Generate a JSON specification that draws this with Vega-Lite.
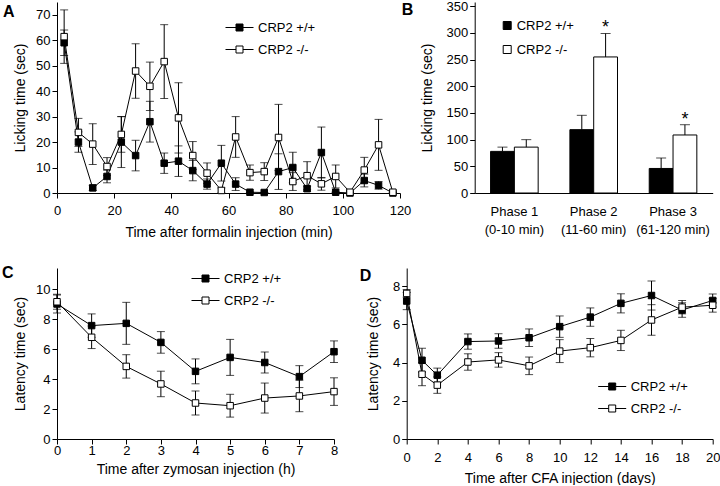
{
 "$schema": "https://vega.github.io/schema/vega-lite/v6.json",
 "padding": {"left": 2, "top": 0, "right": 0, "bottom": 0},
 "config": {
  "font": "Liberation Sans",
  "view": {"stroke": null},
  "axis": {"grid": false, "domainColor": "black", "tickColor": "black", "labelColor": "black", "titleColor": "black", "labelFontSize": 13, "titleFontSize": 14, "titleFontWeight": "normal", "tickSize": 5, "labelFont": "Liberation Sans", "titleFont": "Liberation Sans", "labelFlush": false, "labelOverlap": false},
  "legend": {"labelFontSize": 13, "labelColor": "black", "labelFont": "Liberation Sans", "padding": 0},
  "title": {"anchor": "start", "frame": "group", "fontSize": 16, "fontWeight": "bold", "color": "black", "offset": 0, "baseline": "alphabetic", "font": "Liberation Sans"}
 },
 "datasets": {
  "A": [
   {"t": 2.5, "g": "CRP2 +/+", "m": 59, "e": 5},
   {"t": 7.5, "g": "CRP2 +/+", "m": 20, "e": 4},
   {"t": 12.5, "g": "CRP2 +/+", "m": 2, "e": 1},
   {"t": 17.5, "g": "CRP2 +/+", "m": 6.5, "e": 2.5},
   {"t": 22.5, "g": "CRP2 +/+", "m": 20, "e": 10},
   {"t": 27.5, "g": "CRP2 +/+", "m": 14.7, "e": 6},
   {"t": 32.5, "g": "CRP2 +/+", "m": 28, "e": 8},
   {"t": 37.5, "g": "CRP2 +/+", "m": 11.7, "e": 4},
   {"t": 42.5, "g": "CRP2 +/+", "m": 12.5, "e": 6},
   {"t": 47.5, "g": "CRP2 +/+", "m": 8.8, "e": 4},
   {"t": 52.5, "g": "CRP2 +/+", "m": 3.5, "e": 2},
   {"t": 57.5, "g": "CRP2 +/+", "m": 11.7, "e": 7},
   {"t": 62.5, "g": "CRP2 +/+", "m": 3.5, "e": 2.5},
   {"t": 67.5, "g": "CRP2 +/+", "m": 0.3, "e": 0},
   {"t": 72.5, "g": "CRP2 +/+", "m": 0.2, "e": 0},
   {"t": 77.5, "g": "CRP2 +/+", "m": 8.4, "e": 7},
   {"t": 82.5, "g": "CRP2 +/+", "m": 10, "e": 6},
   {"t": 87.5, "g": "CRP2 +/+", "m": 1.7, "e": 1},
   {"t": 92.5, "g": "CRP2 +/+", "m": 15.9, "e": 10},
   {"t": 97.5, "g": "CRP2 +/+", "m": 0.3, "e": 0},
   {"t": 102.5, "g": "CRP2 +/+", "m": 0, "e": 0},
   {"t": 107.5, "g": "CRP2 +/+", "m": 4.9, "e": 2.5},
   {"t": 112.5, "g": "CRP2 +/+", "m": 3, "e": 1.5},
   {"t": 117.5, "g": "CRP2 +/+", "m": 0, "e": 0},
   {"t": 2.5, "g": "CRP2 -/-", "m": 61.4, "e": 10.5},
   {"t": 7.5, "g": "CRP2 -/-", "m": 23.8, "e": 5.5},
   {"t": 12.5, "g": "CRP2 -/-", "m": 19.2, "e": 8},
   {"t": 17.5, "g": "CRP2 -/-", "m": 10.4, "e": 3.5},
   {"t": 22.5, "g": "CRP2 -/-", "m": 23, "e": 7},
   {"t": 27.5, "g": "CRP2 -/-", "m": 47.9, "e": 10.7},
   {"t": 32.5, "g": "CRP2 -/-", "m": 41.9, "e": 9.5},
   {"t": 37.5, "g": "CRP2 -/-", "m": 51.6, "e": 14.5},
   {"t": 42.5, "g": "CRP2 -/-", "m": 29.5, "e": 13.8},
   {"t": 47.5, "g": "CRP2 -/-", "m": 14.7, "e": 5.5},
   {"t": 52.5, "g": "CRP2 -/-", "m": 7.8, "e": 4},
   {"t": 57.5, "g": "CRP2 -/-", "m": 1, "e": 1},
   {"t": 62.5, "g": "CRP2 -/-", "m": 22, "e": 8},
   {"t": 67.5, "g": "CRP2 -/-", "m": 8, "e": 3},
   {"t": 72.5, "g": "CRP2 -/-", "m": 8.4, "e": 3.5},
   {"t": 77.5, "g": "CRP2 -/-", "m": 21.8, "e": 13},
   {"t": 82.5, "g": "CRP2 -/-", "m": 4.5, "e": 3.5},
   {"t": 87.5, "g": "CRP2 -/-", "m": 6.8, "e": 5.5},
   {"t": 92.5, "g": "CRP2 -/-", "m": 3.6, "e": 2.5},
   {"t": 97.5, "g": "CRP2 -/-", "m": 6.5, "e": 4.5},
   {"t": 102.5, "g": "CRP2 -/-", "m": 0.3, "e": 0},
   {"t": 107.5, "g": "CRP2 -/-", "m": 9, "e": 5},
   {"t": 112.5, "g": "CRP2 -/-", "m": 18.9, "e": 10},
   {"t": 117.5, "g": "CRP2 -/-", "m": 0.3, "e": 0}
  ],
  "B": [
   {"phase": "Phase 1", "g": "CRP2 +/+", "v": 78, "hi": 86, "star": ""},
   {"phase": "Phase 1", "g": "CRP2 -/-", "v": 86, "hi": 100, "star": ""},
   {"phase": "Phase 2", "g": "CRP2 +/+", "v": 118.75, "hi": 145.6, "star": ""},
   {"phase": "Phase 2", "g": "CRP2 -/-", "v": 255, "hi": 299, "star": "*"},
   {"phase": "Phase 3", "g": "CRP2 +/+", "v": 46, "hi": 65.6, "star": ""},
   {"phase": "Phase 3", "g": "CRP2 -/-", "v": 108.75, "hi": 128, "star": "*"}
  ],
  "C": [
   {"t": 0, "g": "CRP2 +/+", "m": 9.0, "e": 0.6},
   {"t": 1, "g": "CRP2 +/+", "m": 7.56, "e": 0.78},
   {"t": 2, "g": "CRP2 +/+", "m": 7.71, "e": 1.4},
   {"t": 3, "g": "CRP2 +/+", "m": 6.44, "e": 0.72},
   {"t": 4, "g": "CRP2 +/+", "m": 4.51, "e": 0.83},
   {"t": 5, "g": "CRP2 +/+", "m": 5.44, "e": 1.2},
   {"t": 6, "g": "CRP2 +/+", "m": 5.1, "e": 0.7},
   {"t": 7, "g": "CRP2 +/+", "m": 4.16, "e": 0.73},
   {"t": 8, "g": "CRP2 +/+", "m": 5.82, "e": 0.72},
   {"t": 0, "g": "CRP2 -/-", "m": 9.15, "e": 0.5},
   {"t": 1, "g": "CRP2 -/-", "m": 6.78, "e": 0.75},
   {"t": 2, "g": "CRP2 -/-", "m": 4.84, "e": 0.78},
   {"t": 3, "g": "CRP2 -/-", "m": 3.67, "e": 0.85},
   {"t": 4, "g": "CRP2 -/-", "m": 2.4, "e": 0.8},
   {"t": 5, "g": "CRP2 -/-", "m": 2.22, "e": 0.76},
   {"t": 6, "g": "CRP2 -/-", "m": 2.73, "e": 1.0},
   {"t": 7, "g": "CRP2 -/-", "m": 2.87, "e": 1.05},
   {"t": 8, "g": "CRP2 -/-", "m": 3.16, "e": 0.92}
  ],
  "D": [
   {"t": 0, "g": "CRP2 +/+", "m": 7.22, "e": 0.45},
   {"t": 1, "g": "CRP2 +/+", "m": 4.12, "e": 0.63},
   {"t": 2, "g": "CRP2 +/+", "m": 3.34, "e": 0.37},
   {"t": 4, "g": "CRP2 +/+", "m": 5.1, "e": 0.4},
   {"t": 6, "g": "CRP2 +/+", "m": 5.13, "e": 0.38},
   {"t": 8, "g": "CRP2 +/+", "m": 5.3, "e": 0.46},
   {"t": 10, "g": "CRP2 +/+", "m": 5.88, "e": 0.56},
   {"t": 12, "g": "CRP2 +/+", "m": 6.38, "e": 0.48},
   {"t": 14, "g": "CRP2 +/+", "m": 7.1, "e": 0.5},
   {"t": 16, "g": "CRP2 +/+", "m": 7.51, "e": 0.76},
   {"t": 18, "g": "CRP2 +/+", "m": 6.75, "e": 0.38},
   {"t": 20, "g": "CRP2 +/+", "m": 7.25, "e": 0.34},
   {"t": 0, "g": "CRP2 -/-", "m": 7.62, "e": 0.2},
   {"t": 1, "g": "CRP2 -/-", "m": 3.39, "e": 0.6},
   {"t": 2, "g": "CRP2 -/-", "m": 2.82, "e": 0.43},
   {"t": 4, "g": "CRP2 -/-", "m": 4.03, "e": 0.43},
   {"t": 6, "g": "CRP2 -/-", "m": 4.14, "e": 0.38},
   {"t": 8, "g": "CRP2 -/-", "m": 3.83, "e": 0.46},
   {"t": 10, "g": "CRP2 -/-", "m": 4.6, "e": 0.6},
   {"t": 12, "g": "CRP2 -/-", "m": 4.78, "e": 0.48},
   {"t": 14, "g": "CRP2 -/-", "m": 5.16, "e": 0.53},
   {"t": 16, "g": "CRP2 -/-", "m": 6.23, "e": 0.8},
   {"t": 18, "g": "CRP2 -/-", "m": 6.9, "e": 0.35},
   {"t": 20, "g": "CRP2 -/-", "m": 7.0, "e": 0.36}
  ]
 },
 "spacing": 25,
 "resolve": {"scale": {"fill": "independent"}, "legend": {"fill": "independent"}},
 "vconcat": [
  {
   "bounds": "flush",
   "spacing": 74.7,
   "resolve": {"scale": {"fill": "independent"}, "legend": {"fill": "independent"}},
   "hconcat": [
    {
     "width": 343, "height": 191,
     "title": {"text": "A", "dx": -54, "dy": 22},
     "data": {"name": "A"},
     "encoding": {
      "x": {"field": "t", "type": "quantitative", "scale": {"domain": [0, 120], "nice": false}, "axis": {"values": [0, 20, 40, 60, 80, 100, 120], "title": "Time after formalin injection (min)", "labelPadding": 6, "titlePadding": 8}},
      "y": {"field": "m", "type": "quantitative", "scale": {"domain": [0, 75], "nice": false}, "axis": {"values": [0, 10, 20, 30, 40, 50, 60, 70], "title": "Licking time (sec)", "titlePadding": 8}}
     },
     "layer": [
      {"mark": {"type": "errorbar", "color": "black", "ticks": {"size": 8}}, "encoding": {"yError": {"field": "e"}, "detail": {"field": "g"}}},
      {"mark": {"type": "line", "color": "black", "strokeWidth": 1}, "encoding": {"detail": {"field": "g"}}},
      {"mark": {"type": "point", "shape": "square", "filled": true, "size": 42, "stroke": "black", "strokeWidth": 1, "opacity": 1},
       "encoding": {"fill": {"field": "g", "type": "nominal", "scale": {"domain": ["CRP2 +/+", "CRP2 -/-"], "range": ["black", "white"]},
        "legend": {"title": null, "orient": "none", "legendX": 168, "legendY": 11, "symbolType": "M-1,0H-0.25M0.25,0H1M-0.25,-0.25H0.25V0.25H-0.25Z", "symbolSize": 784, "symbolStrokeColor": "black", "symbolStrokeWidth": 1, "rowPadding": -6, "labelOffset": 4}}}}
     ]
    },
    {
     "width": 238, "height": 191,
     "title": {"text": "B", "dx": -73, "dy": 22},
     "data": {"name": "B"},
     "encoding": {
      "x": {"field": "phase", "type": "nominal", "scale": {"paddingInner": 0.4, "paddingOuter": 0.2}, "axis": {"title": null, "labelAngle": 0, "ticks": false, "labelPadding": 12, "labelLineHeight": 18, "labelExpr": "datum.label == 'Phase 1' ? ['Phase 1', '(0-10 min)'] : datum.label == 'Phase 2' ? ['Phase 2', '(11-60 min)'] : ['Phase 3', '(61-120 min)']"}},
      "xOffset": {"field": "g", "type": "nominal", "scale": {"domain": ["CRP2 +/+", "CRP2 -/-"]}}
     },
     "layer": [
      {"mark": {"type": "bar", "stroke": "black", "strokeWidth": 1},
       "encoding": {
        "y": {"field": "v", "type": "quantitative", "title": "Licking time (sec)", "scale": {"domain": [0, 358], "nice": false}, "axis": {"values": [0, 50, 100, 150, 200, 250, 300, 350], "titlePadding": 12}},
        "fill": {"field": "g", "type": "nominal", "scale": {"domain": ["CRP2 +/+", "CRP2 -/-"], "range": ["black", "white"]},
         "legend": {"title": null, "orient": "none", "legendX": 26, "legendY": 17, "symbolType": "square", "symbolSize": 64, "symbolStrokeColor": "black", "symbolStrokeWidth": 1, "rowPadding": 10, "labelOffset": 3}}
       }},
      {"mark": {"type": "rule", "color": "black"}, "encoding": {"y": {"field": "v", "type": "quantitative", "title": "Licking time (sec)", "axis": {"values": [0, 50, 100, 150, 200, 250, 300, 350], "titlePadding": 12}}, "y2": {"field": "hi"}}},
      {"mark": {"type": "tick", "color": "black", "size": 10, "thickness": 1}, "encoding": {"y": {"field": "hi", "type": "quantitative", "title": "Licking time (sec)", "axis": {"values": [0, 50, 100, 150, 200, 250, 300, 350], "titlePadding": 12}}}},
      {"mark": {"type": "text", "fontSize": 18, "baseline": "alphabetic", "color": "black"}, "encoding": {"y": {"field": "hi", "type": "quantitative", "title": "Licking time (sec)", "axis": {"values": [0, 50, 100, 150, 200, 250, 300, 350], "titlePadding": 12}}, "text": {"field": "star"}}}
     ]
    }
   ]
  },
  {
   "bounds": "flush",
   "spacing": 72.7,
   "resolve": {"scale": {"fill": "independent"}, "legend": {"fill": "independent"}},
   "hconcat": [
    {
     "width": 277, "height": 171,
     "title": {"text": "C", "dx": -55, "dy": 21},
     "data": {"name": "C"},
     "encoding": {
      "x": {"field": "t", "type": "quantitative", "scale": {"domain": [0, 8], "nice": false}, "axis": {"values": [0, 1, 2, 3, 4, 5, 6, 7, 8], "title": "Time after zymosan injection (h)", "labelPadding": 0, "titlePadding": 5}},
      "y": {"field": "m", "type": "quantitative", "scale": {"domain": [0, 11.4], "nice": false}, "axis": {"values": [0, 2, 4, 6, 8, 10], "title": "Latency time (sec)", "titlePadding": 8}}
     },
     "layer": [
      {"mark": {"type": "errorbar", "color": "black", "ticks": {"size": 8}}, "encoding": {"yError": {"field": "e"}, "detail": {"field": "g"}}},
      {"mark": {"type": "line", "color": "black", "strokeWidth": 1}, "encoding": {"detail": {"field": "g"}}},
      {"mark": {"type": "point", "shape": "square", "filled": true, "size": 42, "stroke": "black", "strokeWidth": 1, "opacity": 1},
       "encoding": {"fill": {"field": "g", "type": "nominal", "scale": {"domain": ["CRP2 +/+", "CRP2 -/-"], "range": ["black", "white"]},
        "legend": {"title": null, "orient": "none", "legendX": 134, "legendY": -4, "symbolType": "M-1,0H-0.25M0.25,0H1M-0.25,-0.25H0.25V0.25H-0.25Z", "symbolSize": 784, "symbolStrokeColor": "black", "symbolStrokeWidth": 1, "rowPadding": -6, "labelOffset": 4}}}}
     ]
    },
    {
     "width": 306, "height": 171,
     "title": {"text": "D", "dx": -47, "dy": 20},
     "data": {"name": "D"},
     "encoding": {
      "x": {"field": "t", "type": "quantitative", "scale": {"domain": [0, 20], "nice": false}, "axis": {"values": [0, 2, 4, 6, 8, 10, 12, 14, 16, 18, 20], "title": "Time after CFA injection (days)", "labelPadding": 7, "titlePadding": 7}},
      "y": {"field": "m", "type": "quantitative", "scale": {"domain": [0, 8.95], "nice": false}, "axis": {"values": [0, 2, 4, 6, 8], "title": "Latency time (sec)", "titlePadding": 12}}
     },
     "layer": [
      {"mark": {"type": "errorbar", "color": "black", "ticks": {"size": 8}}, "encoding": {"yError": {"field": "e"}, "detail": {"field": "g"}}},
      {"mark": {"type": "line", "color": "black", "strokeWidth": 1}, "encoding": {"detail": {"field": "g"}}},
      {"mark": {"type": "point", "shape": "square", "filled": true, "size": 42, "stroke": "black", "strokeWidth": 1, "opacity": 1},
       "encoding": {"fill": {"field": "g", "type": "nominal", "scale": {"domain": ["CRP2 +/+", "CRP2 -/-"], "range": ["black", "white"]},
        "legend": {"title": null, "orient": "none", "legendX": 191, "legendY": 104, "symbolType": "M-1,0H-0.25M0.25,0H1M-0.25,-0.25H0.25V0.25H-0.25Z", "symbolSize": 784, "symbolStrokeColor": "black", "symbolStrokeWidth": 1, "rowPadding": -8, "labelOffset": 4}}}}
     ]
    }
   ]
  }
 ]
}
